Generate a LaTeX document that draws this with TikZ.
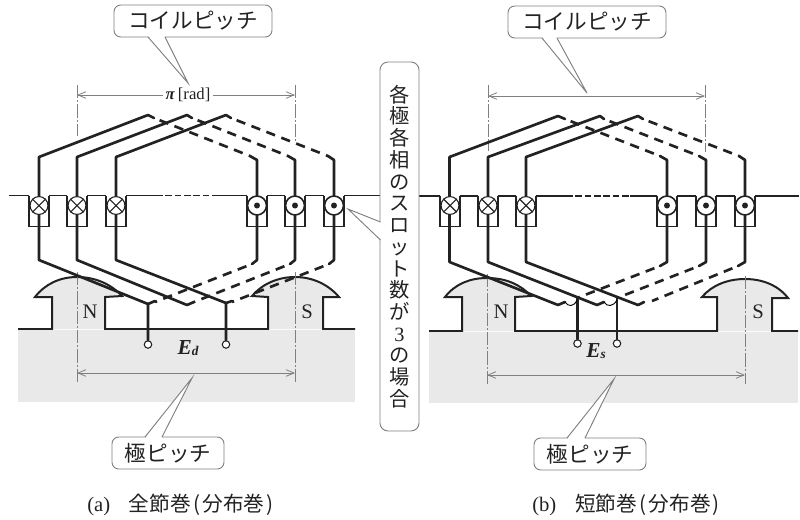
\documentclass[tikz,border=0pt]{standalone}
\usepackage{fontspec}
\setmainfont{Liberation Serif}
\newfontfamily\jp{Noto Sans CJK JP}
\usetikzlibrary{arrows.meta}
\definecolor{ink}{HTML}{222222}
\definecolor{thin}{HTML}{808080}
\definecolor{poleg}{HTML}{E9E9E9}
\tikzset{
  x=0.75pt,y=-0.75pt,
  coil/.style={draw=ink,line width=2pt,line join=round,line cap=round},
  coildash/.style={draw=ink,line width=2pt,dash pattern=on 7pt off 5pt,dash phase=7.5pt},
  ground/.style={draw=ink,line width=1.05pt},
  pole/.style={draw=ink,line width=1.5pt,line join=miter,fill=poleg},
  dimline/.style={draw=thin,line width=0.6pt,{Straight Barb[length=6pt,width=5pt]}-{Straight Barb[length=6pt,width=5pt]}},
  dimhalf/.style={draw=thin,line width=0.6pt,-{Straight Barb[length=6pt,width=5pt]}},
  axisline/.style={draw=thin,line width=0.55pt,dash pattern=on 10pt off 1.5pt on 1.5pt off 1.5pt},
  callout/.style={draw=thin,line width=0.7pt,fill=white,rounded corners=5pt,inner sep=0pt,text=ink,font=\jp\fontsize{16.2}{18}\selectfont},
  tail/.style={draw=thin,line width=0.7pt},
  term/.style={circle,draw=ink,line width=0.8pt,fill=white,minimum size=5.6pt,inner sep=0pt},
  polelabel/.style={text=ink,inner sep=0pt,font=\fontsize{15.5}{17}\selectfont},
  caption/.style={text=ink,inner sep=0pt,font=\fontsize{15.5}{18}\selectfont},
  cross/.style={circle,draw=ink,line width=0.8pt,fill=white,minimum size=13.4pt,inner sep=0pt},
  dotc/.style={circle,draw=ink,line width=1.2pt,fill=white,minimum size=14.2pt,inner sep=0pt},
}
\newcommand{\slotbox}[1]{\draw[ground] (#1-10,195.5) -- (#1-10,226.5) -- (#1+10,226.5) -- (#1+10,195.5);}
\begin{document}
\begin{tikzpicture}
\useasboundingbox (0,0) rectangle (800,519);
% ---------- poles
\path[pole] (18,329) -- (52,329) -- (52,297) -- (35,297) .. controls (45,284) and (60,277) .. (77,277) .. controls (95,277) and (111,284) .. (122,296) -- (105,297) -- (105,329) -- (268,329) -- (268,297) -- (252,296) .. controls (262,284) and (278,277) .. (295,277) .. controls (312,277) and (328,284) .. (339,297) -- (323,297) -- (323,329) -- (355,329);
\fill[poleg] (18,329.6) rectangle (355,402);
\path[pole] (429,331) -- (462,331) -- (462,297) -- (445,297) .. controls (455,284) and (470,278) .. (487,278) .. controls (505,278) and (520,284) .. (531,296) -- (515,297) -- (515,331) -- (717,331) -- (717,297) -- (702,297) .. controls (712,285) and (728,279) .. (745,279) .. controls (762,279) and (778,285) .. (788,298) -- (772,298) -- (772,331) -- (798,331);
\fill[poleg] (429,331.6) rectangle (798,403);
% redraw open outline on the flat gaps
\draw[ground,line width=1.5pt] (18,329) -- (52,329) (105,329) -- (268,329) (323,329) -- (355,329);
\draw[ground,line width=1.5pt] (429,331) -- (462,331) (515,331) -- (717,331) (772,331) -- (798,331);
% ---------- axis lines
\foreach \xa/\ya/\yb in {77/85/136,295/85/143,488/85/151,705/85/152,77/272/382,295/272/382,487/274/384,745/276/384}
  \draw[axisline] (\xa,\ya) -- (\xa,\yb);
% ---------- dashed coil sides
\draw[coildash] (154,118) -- (250,156);
\draw[coildash] (192,118) -- (288,156);
\draw[coildash] (231,118) -- (328,156);
\draw[coildash] (252,264) -- (155,302);
\draw[coildash] (290,264) -- (194,302);
\draw[coildash] (329,264) -- (232,302);
\draw[coildash] (565,119) -- (660,156);
\draw[coildash] (604,119) -- (699,156);
\draw[coildash] (643,119) -- (739,156);
\draw[coildash] (660,266) -- (577,298);
\draw[coildash] (699,266) -- (617,298);
\draw[coildash] (738,266) -- (652,301);
% ---------- solid coil sides, left
\node[term] (ta) at (148,344.5) {};
\node[term] (tb) at (226,344.5) {};
\node[term] (tc) at (577.5,343.5) {};
\node[term] (td) at (617,343.5) {};
\draw[coil] (154,118) -- (148,115) -- (39,157) -- (39,260) -- (148,304) -- (ta);
\draw[coil] (148,304) -- (155,301);
\draw[coil] (192,118) -- (187,115) -- (77,157) -- (77,260) -- (187,305) -- (194,302);
\draw[coil] (231,118) -- (226,115) -- (116,157) -- (116,260) -- (226,303) -- (tb);
\draw[coil] (226,303) -- (232,301);
\draw[coil] (250,156) -- (257,160) -- (257,260) -- (252,264);
\draw[coil] (288,156) -- (295,160) -- (295,260) -- (290,264);
\draw[coil] (328,156) -- (334,160) -- (334,260) -- (329,264);
% ---------- solid coil sides, right
\draw[coil] (565,119) -- (558,116) -- (449.5,157) -- (449.5,262) -- (558,305) -- (565,302);
\draw[coil] (604,119) -- (600,116) -- (488,157) -- (488,262) -- (597,305) -- (604,302);
\draw[coil] (643,119) -- (638,116) -- (526,157) -- (526,262) -- (638,305) -- (644,302);
\draw[coil] (660,156) -- (667,160) -- (667,262) -- (660,266);
\draw[coil] (699,156) -- (706,160) -- (706,262) -- (699,266);
\draw[coil] (739,156) -- (745,160) -- (745,262) -- (738,266);
\draw[coil] (577.5,298) -- (tc);
\draw[coil] (617,298) -- (td);
\draw[thin,line width=0.7pt] (565,302) .. controls (568,307) and (574,307) .. (577,300);
\draw[thin,line width=0.7pt] (604,302) .. controls (607,307) and (613,307) .. (617,300);
% ---------- stator surface
\draw[ground] (9,195.5) -- (29,195.5) (49,195.5) -- (67,195.5) (87,195.5) -- (106,195.5) (126,195.5) -- (156,195.5);
\draw[ground,dash pattern=on 5pt off 2pt] (156,195.5) -- (219,195.5);
\draw[ground] (219,195.5) -- (247,195.5) (267,195.5) -- (285,195.5) (305,195.5) -- (324,195.5) (344,195.5) -- (381,195.5);
\draw[ground] (418,196) -- (440,196) (460,196) -- (478,196) (498,196) -- (516,196) (536,196) -- (566,196);
\draw[ground,dash pattern=on 5pt off 2pt] (566,196) -- (630,196);
\draw[ground] (630,196) -- (657,196) (677,196) -- (696,196) (716,196) -- (735,196) (755,196) -- (799,196);
\foreach \c in {39,77,116,257,295,334,450,488,526,667,706,745}{\slotbox{\c}}
% ---------- conductors
\foreach \c/\n in {39/a,77/b,116/c,450/d,488/e,526/f}{
  \node[cross] (x\n) at (\c,205.5) {};
  \draw[ink,line width=0.8pt] (x\n.north west) -- (x\n.south east) (x\n.north east) -- (x\n.south west);
}
\foreach \c/\n in {257/a,295/b,334/c,667/d,706/e,745/f}{
  \node[dotc] (o\n) at (\c,205.5) {};
  \fill[ink] (o\n) circle (3);
}
% ---------- dimension lines
\node[inner sep=1.5pt,text=ink,fill=white,font=\fontsize{12.5}{14}\selectfont] (pi) at (188,95) {\textbf{\textit{π}}\,[rad]};
\coordinate (pl) at (77,95); \coordinate (pr) at (295,95);
\draw[dimhalf] (pi) -- (pl);
\draw[dimhalf] (pi) -- (pr);
\coordinate (ql) at (488,96); \coordinate (qr) at (705,96);
\draw[dimline] (ql) -- (qr);
\coordinate (rl) at (77,373); \coordinate (rr) at (295,373);
\draw[dimline] (rl) -- (rr);
\coordinate (sl) at (487,375); \coordinate (sr) at (745,375);
\draw[dimline] (sl) -- (sr);
% ---------- labels N, S, E
\node[polelabel] (na) at (90,312) {N};
\node[polelabel] (sa) at (307,312) {S};
\node[polelabel] (nb) at (501,312) {N};
\node[polelabel] (sb) at (758,312) {S};
\node[text=ink,inner sep=0pt,font=\fontsize{16}{18}\selectfont\bfseries\itshape] (ed) at (188,348) {E\raisebox{-1pt}{\fontsize{10}{11}\selectfont d}};
\node[text=ink,inner sep=0pt,font=\fontsize{16}{18}\selectfont\bfseries\itshape] (es) at (596,351) {E\raisebox{-1pt}{\fontsize{10}{11}\selectfont s}};
% ---------- callouts
\node[callout,minimum width=118.5pt,minimum height=24pt] (c1) at (193,21) {コイルピッチ};
\node[callout,minimum width=118.5pt,minimum height=24pt] (c2) at (587,22) {コイルピッチ};
\node[callout,minimum width=84pt,minimum height=24pt] (c3) at (168,453) {極ピッチ};
\node[callout,minimum width=84pt,minimum height=24pt] (c4) at (590,454) {極ピッチ};
\coordinate (tip1) at (188,83);
\coordinate (tip2) at (587,93);
\coordinate (tip3) at (192,378);
\coordinate (tip4) at (614,379);
\fill[white] (148.5,36) -- (tip1) -- (164.5,36) -- cycle;
\draw[tail] (148,37) -- (tip1) -- (165,37);
\fill[white] (542.5,37) -- (tip2) -- (556.5,37) -- cycle;
\draw[tail] (542,38) -- (tip2) -- (557,38);
\fill[white] (145.5,438) -- (tip3) -- (161.5,438) -- cycle;
\draw[tail] (145,437) -- (tip3) -- (162,437);
\fill[white] (567.5,439) -- (tip4) -- (584.5,439) -- cycle;
\draw[tail] (567,438) -- (tip4) -- (585,438);
% ---------- centre callout
\node[draw=thin,line width=0.7pt,fill=white,rounded corners=6pt,inner sep=0pt,minimum width=29.25pt,minimum height=276.75pt,text=ink,align=center,font=\jp\fontsize{15.2}{16.3}\selectfont] (cc) at (399.5,246.5) {各\\極\\各\\相\\の\\ス\\ロ\\ッ\\ト\\数\\が\\{\rmfamily 3}\\の\\場\\合};
\coordinate (tip5) at (348,209);
\fill[white] (381,222.5) -- (tip5) -- (381,239.5) -- cycle;
\draw[tail] (380.5,222) -- (tip5) -- (380.5,240);
% ---------- captions
\node[caption,anchor=west] (capa) at (87,505) {(a)\hspace{14pt}{\jp 全節巻\hspace{2pt}(\hspace{1.5pt}分布巻\hspace{1.5pt})}};
\node[caption,anchor=west] (capb) at (532,505) {(b)\hspace{14pt}{\jp 短節巻\hspace{2pt}(\hspace{1.5pt}分布巻\hspace{1.5pt})}};
\end{tikzpicture}
\end{document}
